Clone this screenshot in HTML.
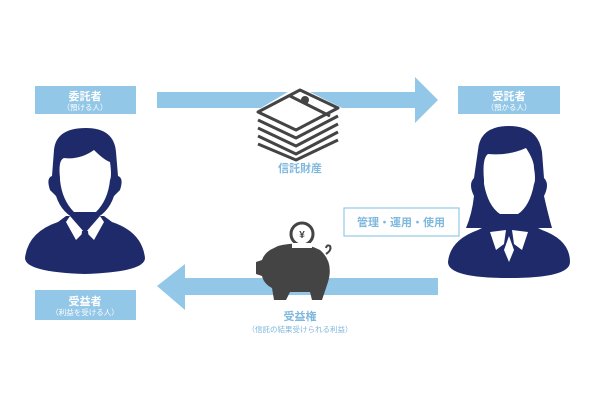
<!DOCTYPE html>
<html><head><meta charset="utf-8"><style>
html,body{margin:0;padding:0;background:#fff;width:600px;height:400px;overflow:hidden}
text{font-family:"Liberation Sans","Noto Sans CJK JP",sans-serif}
</style></head><body>
<svg width="600" height="400" viewBox="0 0 600 400" xmlns="http://www.w3.org/2000/svg">
<g fill="#93c7e8">
<rect x="157" y="92" width="262" height="16"/>
<polygon points="415,77 438,100 415,123"/>
<rect x="183" y="278" width="255" height="17"/>
<polygon points="185,264 157,286 185,310"/>
<rect x="35" y="86" width="101" height="28"/>
<rect x="458" y="86" width="102" height="28"/>
<rect x="35" y="290" width="101" height="30"/>
</g>
<g fill="#fff" text-anchor="middle">
<text x="85" y="100" font-size="11" font-weight="bold">委託者</text>
<text x="85" y="110" font-size="7.5">（預ける人）</text>
<text x="509" y="100" font-size="11" font-weight="bold">受託者</text>
<text x="509" y="110" font-size="7.5">（預かる人）</text>
<text x="85" y="305" font-size="11" font-weight="bold">受益者</text>
<text x="85" y="315" font-size="7.5">（利益を受ける人）</text>
</g>
<rect x="344" y="208" width="115" height="28" fill="#fff" stroke="#93c7e8" stroke-width="1.2"/>
<text x="401" y="226" font-size="11" fill="#7fb8de" text-anchor="middle" font-weight="bold">管理・運用・使用</text>
<text x="300" y="172" font-size="11" fill="#7fb8de" text-anchor="middle" font-weight="bold">信託財産</text>
<text x="300" y="320" font-size="11" fill="#7fb8de" text-anchor="middle" font-weight="bold">受益権</text>
<text x="300" y="332" font-size="7.5" fill="#7fb8de" text-anchor="middle">（信託の結果受けられる利益）</text>

<!-- money stack -->
<path d="M254,112 L298,86 L342,108 L342,140 L296,164 L254,142 Z" fill="#fff"/>
<g fill="none" stroke="#444" stroke-width="3" stroke-linejoin="round">
<polygon points="258,112 300,90 338,108 296,130"/>
<polyline points="258,120 296,138 338,116"/>
<polyline points="258,128 296,146 338,124"/>
<polyline points="258,136 296,154 338,132"/>
<polyline points="258,144 296,160 338,140"/>
<line x1="290" y1="96" x2="330" y2="116"/>
</g>
<circle cx="305" cy="100" r="4" fill="#444"/>
<!-- piggy bank -->
<circle cx="302" cy="234" r="11" fill="#fff" stroke="#444" stroke-width="3"/>
<text x="302" y="238" font-size="10" text-anchor="middle" fill="#444" font-weight="bold">¥</text>
<path d="M270,250 L278,246 Q300,240 320,250 Q334,262 328,282 L322,300 L312,300 L310,292 L290,292 L286,300 L274,300 L272,288 Q264,284 262,276 L256,274 L256,262 L262,260 Q264,254 270,250 Z" fill="#444"/>
<rect x="292" y="243" width="20" height="5" fill="#fff"/>
<path d="M326,254 q6,-4 4,-8 q-3,-2 -4,2" fill="none" stroke="#444" stroke-width="2"/>

<!-- left person -->
<g fill="#1f2a6b">
<path d="M25,258 Q28,232 58,222 L66,216 L104,216 L112,222 Q142,232 145,258 Q145,272 85,274 Q25,272 25,258 Z"/>
<path d="M54,150 Q56,128 86,128 Q114,128 116,152 L118,176 Q124,178 120,190 L114,196 Q108,214 92,220 L78,220 Q62,214 56,196 L50,190 Q46,178 52,176 Z"/>
</g>
<path d="M60,178 Q58,160 64,158 Q80,160 94,150 Q104,160 110,162 Q112,176 110,180 Q108,200 96,212 L74,212 Q62,200 60,180 Z" fill="#fff"/>
<polygon points="70,216 84,232 76,240 66,222" fill="#fff"/>
<polygon points="100,216 86,232 94,240 104,222" fill="#fff"/>
<polygon points="82,231 88,231 90,250 85,256 80,250" fill="#1f2a6b"/>
<!-- right person -->
<g fill="#1f2a6b">
<path d="M448,262 Q450,240 478,230 L490,224 L530,224 L542,230 Q570,240 570,262 Q570,278 509,278 Q448,278 448,262 Z"/>
<path d="M478,150 Q480,126 509,126 Q538,126 542,152 L544,178 Q550,184 544,196 Q548,214 552,228 L466,228 Q472,214 474,196 Q468,184 474,178 Z"/>
</g>
<path d="M484,180 Q482,158 488,154 Q508,156 526,148 Q534,160 534,168 Q536,180 534,184 Q530,206 518,214 L500,214 Q488,206 484,184 Z" fill="#fff"/>
<polygon points="490,232 506,230 504,244 496,250" fill="#fff"/>
<polygon points="528,232 512,230 514,244 522,250" fill="#fff"/>
<polygon points="509,236 514,250 509,262 504,250" fill="#fff"/>
</svg>
</body></html>
